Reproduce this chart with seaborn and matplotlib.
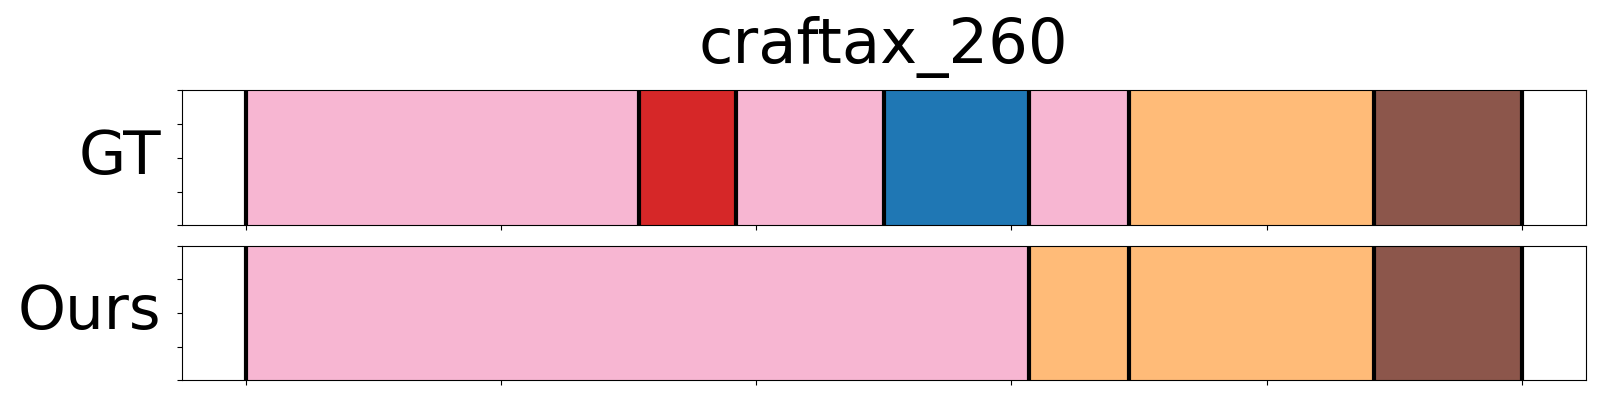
import matplotlib
matplotlib.use("Agg")
import matplotlib.pyplot as plt
import seaborn as sns
import pandas as pd

sns.set_style("ticks", {"axes.edgecolor": "black", "text.color": "black",
                        "xtick.color": "black", "ytick.color": "black",
                        "axes.labelcolor": "black"})
plt.rcParams['font.family'] = ['DejaVu Sans']

title = "craftax_260"
rows = ["GT", "Ours"]

# segment boundaries (frame index) and the action class of each segment
gt_bounds = [0, 154, 192, 250, 307, 346, 442, 500]
gt_labels = ["pink", "red", "pink", "blue", "pink", "orange", "brown"]
ours_bounds = [0, 307, 346, 442, 500]
ours_labels = ["pink", "orange", "orange", "brown"]

tab20 = sns.color_palette("tab20")
colors = {"pink": tab20[13], "red": tab20[6], "blue": tab20[0],
          "orange": tab20[3], "brown": tab20[10]}


def segments(bounds, labels):
    return pd.DataFrame({
        'start': bounds[:-1],
        'width': [b - a for a, b in zip(bounds[:-1], bounds[1:])],
        'label': labels,
    })


fig, axes = plt.subplots(2, 1, figsize=(16, 4), dpi=100, sharex=True)
fig.subplots_adjust(left=0.1136, right=0.991, top=0.774, bottom=0.049, hspace=0.15)

for ax, name, bounds, labels in zip(axes, rows,
                                    [gt_bounds, ours_bounds],
                                    [gt_labels, ours_labels]):
    df = segments(bounds, labels)
    ax.bar(df['start'], 1, width=df['width'], align='edge',
           color=[colors[c] for c in df['label']], linewidth=0)
    for b in bounds:
        ax.axvline(b, color='black', linewidth=3)
    ax.set_ylim(0, 1)
    ax.set_yticks([0, 0.25, 0.5, 0.75, 1.0])
    ax.set_yticklabels([])
    ax.set_xticks([0, 100, 200, 300, 400, 500])
    ax.tick_params(labelbottom=False)
    ax.set_ylabel(name, fontsize=44, rotation=0, ha='right', va='center', labelpad=8)

axes[0].set_xlim(-25, 525)
axes[0].set_title(title, fontsize=45, pad=20)

fig.savefig("out.png", dpi=100)
